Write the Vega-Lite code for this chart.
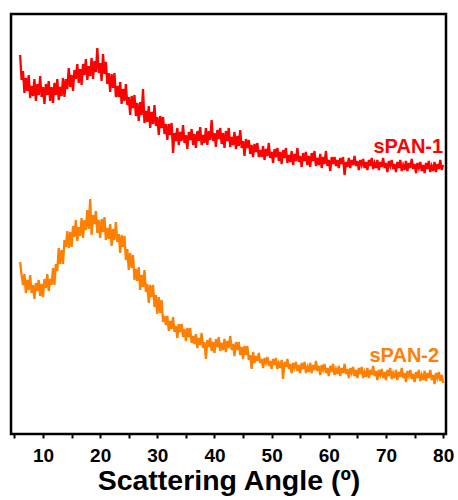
{
"$schema": "https://vega.github.io/schema/vega-lite/v6.json",
"width": 435, "height": 420,
"autosize": {"type": "none"},
"padding": {"left": 11, "top": 14, "right": 12, "bottom": 66},
"background": "white",
"config": {"view": {"stroke": "black", "strokeWidth": 2.5}, "font": "Liberation Sans"},
"encoding": {
"x": {"field": "x", "type": "quantitative",
"scale": {"domain": [4.4, 80.5], "nice": false, "zero": false},
"axis": {"values": [5,10,15,20,25,30,35,40,45,50,55,60,65,70,75,80],
"labelExpr": "datum.value % 10 == 0 ? datum.label : ''",
"domain": false, "grid": false,
"tickColor": "black", "tickWidth": 2, "tickSize": 4,
"labelFont": "Liberation Sans", "labelFontSize": 19, "labelFontWeight": "bold", "labelColor": "black", "labelPadding": 8,
"title": "Scattering Angle (º)", "titleFont": "Liberation Sans", "titleFontSize": 28.5, "titleFontWeight": "bold", "titleColor": "black", "titlePadding": 1}},
"y": {"field": "value", "type": "quantitative", "scale": {"domain": [0, 420], "nice": false, "zero": false}, "axis": null},
"color": {"field": "series", "type": "nominal", "scale": {"domain": ["r", "o"], "range": ["#ff0000", "#ff8000"]}, "legend": null}
},
"layer": [
{
"data": {"values": [
{"x":6,"r":379,"o":172},{"x":6.25,"r":354,"o":159},{"x":6.5,"r":363,"o":149},{"x":6.75,"r":341,"o":160},
{"x":7,"r":356,"o":141},{"x":7.25,"r":343,"o":154},{"x":7.5,"r":359,"o":144},{"x":7.75,"r":336,"o":159},
{"x":8,"r":348,"o":141},{"x":8.25,"r":338,"o":149},{"x":8.5,"r":355,"o":135},{"x":8.75,"r":333,"o":151},
{"x":9,"r":350,"o":143},{"x":9.25,"r":339,"o":154},{"x":9.5,"r":358,"o":138},{"x":9.75,"r":337,"o":150},
{"x":10,"r":347,"o":137},{"x":10.25,"r":330,"o":155},{"x":10.5,"r":350,"o":146},{"x":10.75,"r":339,"o":160},
{"x":11,"r":353,"o":143},{"x":11.25,"r":333,"o":155},{"x":11.5,"r":347,"o":149},{"x":11.75,"r":331,"o":166},
{"x":12,"r":351,"o":149},{"x":12.25,"r":339,"o":170},{"x":12.5,"r":355,"o":163},{"x":12.75,"r":334,"o":186},
{"x":13,"r":347,"o":170},{"x":13.25,"r":338,"o":184},{"x":13.5,"r":356,"o":170},{"x":13.75,"r":337,"o":194},
{"x":14,"r":355,"o":187},{"x":14.25,"r":345,"o":203},{"x":14.5,"r":366,"o":186},{"x":14.75,"r":347,"o":202},
{"x":15,"r":359,"o":187},{"x":15.25,"r":343,"o":208},{"x":15.5,"r":364,"o":197},{"x":15.75,"r":355,"o":214},
{"x":16,"r":370,"o":193},{"x":16.25,"r":351,"o":207},{"x":16.5,"r":365,"o":198},{"x":16.75,"r":349,"o":216},
{"x":17,"r":370,"o":196},{"x":17.25,"r":359,"o":214},{"x":17.5,"r":375,"o":204},{"x":17.75,"r":354,"o":224},
{"x":18,"r":368,"o":205},{"x":18.25,"r":358,"o":235},{"x":18.5,"r":376,"o":199},{"x":18.75,"r":355,"o":219},
{"x":19,"r":373,"o":210},{"x":19.25,"r":362,"o":223},{"x":19.5,"r":386,"o":201},{"x":19.75,"r":361,"o":214},
{"x":20,"r":371,"o":196},{"x":20.25,"r":353,"o":215},{"x":20.5,"r":380,"o":202},{"x":20.75,"r":360,"o":217},
{"x":21,"r":372,"o":194},{"x":21.25,"r":350,"o":206},{"x":21.5,"r":361,"o":195},{"x":21.75,"r":342,"o":210},
{"x":22,"r":360,"o":188},{"x":22.25,"r":346,"o":205},{"x":22.5,"r":361,"o":194},{"x":22.75,"r":337,"o":212},
{"x":23,"r":348,"o":192},{"x":23.25,"r":337,"o":200},{"x":23.5,"r":352,"o":181},{"x":23.75,"r":330,"o":199},
{"x":24,"r":345,"o":187},{"x":24.25,"r":333,"o":198},{"x":24.5,"r":350,"o":174},{"x":24.75,"r":329,"o":185},
{"x":25,"r":337,"o":164},{"x":25.25,"r":319,"o":181},{"x":25.5,"r":338,"o":166},{"x":25.75,"r":326,"o":179},
{"x":26,"r":339,"o":154},{"x":26.25,"r":318,"o":165},{"x":26.5,"r":331,"o":153},{"x":26.75,"r":313,"o":167},
{"x":27,"r":332,"o":144},{"x":27.25,"r":319,"o":159},{"x":27.5,"r":345,"o":147},{"x":27.75,"r":311,"o":164},
{"x":28,"r":323,"o":142},{"x":28.25,"r":312,"o":150},{"x":28.5,"r":328,"o":131},{"x":28.75,"r":306,"o":149},
{"x":29,"r":322,"o":137},{"x":29.25,"r":310,"o":149},{"x":29.5,"r":329,"o":127},{"x":29.75,"r":308,"o":139},
{"x":30,"r":317,"o":120},{"x":30.25,"r":299,"o":137},{"x":30.5,"r":318,"o":121},{"x":30.75,"r":306,"o":134},
{"x":31,"r":317,"o":112},{"x":31.25,"r":300,"o":118},{"x":31.5,"r":310,"o":109},{"x":31.75,"r":294,"o":118},
{"x":32,"r":310,"o":103},{"x":32.25,"r":299,"o":113},{"x":32.5,"r":311,"o":105},{"x":32.75,"r":281,"o":117},
{"x":33,"r":301,"o":102},{"x":33.25,"r":293,"o":108},{"x":33.5,"r":306,"o":96},{"x":33.75,"r":289,"o":110},
{"x":34,"r":302,"o":102},{"x":34.25,"r":293,"o":110},{"x":34.5,"r":309,"o":97},{"x":34.75,"r":291,"o":105},
{"x":35,"r":299,"o":93},{"x":35.25,"r":285,"o":106},{"x":35.5,"r":302,"o":97},{"x":35.75,"r":294,"o":106},
{"x":36,"r":305,"o":91},{"x":36.25,"r":289,"o":98},{"x":36.5,"r":300,"o":90},{"x":36.75,"r":286,"o":100},
{"x":37,"r":303,"o":86},{"x":37.25,"r":293,"o":96},{"x":37.5,"r":307,"o":89},{"x":37.75,"r":289,"o":101},
{"x":38,"r":299,"o":86},{"x":38.25,"r":291,"o":92},{"x":38.5,"r":306,"o":75},{"x":38.75,"r":289,"o":94},
{"x":39,"r":303,"o":87},{"x":39.25,"r":294,"o":96},{"x":39.5,"r":314,"o":83},{"x":39.75,"r":293,"o":92},
{"x":40,"r":301,"o":81},{"x":40.25,"r":287,"o":95},{"x":40.5,"r":304,"o":87},{"x":40.75,"r":295,"o":97},
{"x":41,"r":306,"o":83},{"x":41.25,"r":290,"o":91},{"x":41.5,"r":301,"o":84},{"x":41.75,"r":286,"o":95},
{"x":42,"r":303,"o":82},{"x":42.25,"r":293,"o":93},{"x":42.5,"r":306,"o":86},{"x":42.75,"r":287,"o":98},
{"x":43,"r":297,"o":84},{"x":43.25,"r":289,"o":90},{"x":43.5,"r":302,"o":78},{"x":43.75,"r":285,"o":92},
{"x":44,"r":298,"o":84},{"x":44.25,"r":288,"o":92},{"x":44.5,"r":304,"o":79},{"x":44.75,"r":286,"o":87},
{"x":45,"r":293,"o":75},{"x":45.25,"r":278,"o":88},{"x":45.5,"r":295,"o":79},{"x":45.75,"r":286,"o":88},
{"x":46,"r":294,"o":74},{"x":46.25,"r":280,"o":79},{"x":46.5,"r":289,"o":65},{"x":46.75,"r":277,"o":82},
{"x":47,"r":290,"o":71},{"x":47.25,"r":282,"o":78},{"x":47.5,"r":291,"o":73},{"x":47.75,"r":277,"o":81},
{"x":48,"r":284,"o":71},{"x":48.25,"r":277,"o":75},{"x":48.5,"r":288,"o":66},{"x":48.75,"r":274,"o":76},
{"x":49,"r":285,"o":71},{"x":49.25,"r":278,"o":77},{"x":49.5,"r":291,"o":68},{"x":49.75,"r":276,"o":73},
{"x":50,"r":282,"o":65},{"x":50.25,"r":271,"o":75},{"x":50.5,"r":285,"o":69},{"x":50.75,"r":277,"o":76},
{"x":51,"r":286,"o":65},{"x":51.25,"r":273,"o":71},{"x":51.5,"r":282,"o":66},{"x":51.75,"r":270,"o":74},
{"x":52,"r":284,"o":55},{"x":52.25,"r":276,"o":72},{"x":52.5,"r":286,"o":67},{"x":52.75,"r":271,"o":75},
{"x":53,"r":279,"o":65},{"x":53.25,"r":272,"o":70},{"x":53.5,"r":283,"o":61},{"x":53.75,"r":269,"o":71},
{"x":54,"r":280,"o":66},{"x":54.25,"r":273,"o":72},{"x":54.5,"r":286,"o":63},{"x":54.75,"r":272,"o":69},
{"x":55,"r":278,"o":61},{"x":55.25,"r":267,"o":71},{"x":55.5,"r":281,"o":65},{"x":55.75,"r":273,"o":72},
{"x":56,"r":282,"o":61},{"x":56.25,"r":269,"o":67},{"x":56.5,"r":278,"o":62},{"x":56.75,"r":267,"o":71},
{"x":57,"r":281,"o":61},{"x":57.25,"r":273,"o":69},{"x":57.5,"r":283,"o":64},{"x":57.75,"r":268,"o":73},
{"x":58,"r":276,"o":63},{"x":58.25,"r":269,"o":68},{"x":58.5,"r":280,"o":59},{"x":58.75,"r":266,"o":69},
{"x":59,"r":277,"o":64},{"x":59.25,"r":270,"o":70},{"x":59.5,"r":283,"o":61},{"x":59.75,"r":268,"o":66},
{"x":60,"r":274,"o":58},{"x":60.25,"r":263,"o":68},{"x":60.5,"r":277,"o":62},{"x":60.75,"r":270,"o":70},
{"x":61,"r":277,"o":59},{"x":61.25,"r":268,"o":65},{"x":61.5,"r":274,"o":60},{"x":61.75,"r":266,"o":68},
{"x":62,"r":276,"o":58},{"x":62.25,"r":270,"o":66},{"x":62.5,"r":277,"o":61},{"x":62.75,"r":259,"o":70},
{"x":63,"r":272,"o":60},{"x":63.25,"r":267,"o":65},{"x":63.5,"r":276,"o":56},{"x":63.75,"r":266,"o":66},
{"x":64,"r":274,"o":61},{"x":64.25,"r":269,"o":67},{"x":64.5,"r":278,"o":58},{"x":64.75,"r":268,"o":64},
{"x":65,"r":273,"o":56},{"x":65.25,"r":264,"o":66},{"x":65.5,"r":274,"o":60},{"x":65.75,"r":269,"o":67},
{"x":66,"r":275,"o":56},{"x":66.25,"r":266,"o":62},{"x":66.5,"r":272,"o":57},{"x":66.75,"r":264,"o":66},
{"x":67,"r":274,"o":56},{"x":67.25,"r":268,"o":64},{"x":67.5,"r":276,"o":59},{"x":67.75,"r":265,"o":68},
{"x":68,"r":271,"o":58},{"x":68.25,"r":266,"o":63},{"x":68.5,"r":274,"o":54},{"x":68.75,"r":264,"o":64},
{"x":69,"r":272,"o":59},{"x":69.25,"r":267,"o":65},{"x":69.5,"r":276,"o":56},{"x":69.75,"r":266,"o":62},
{"x":70,"r":271,"o":54},{"x":70.25,"r":262,"o":64},{"x":70.5,"r":273,"o":58},{"x":70.75,"r":268,"o":66},
{"x":71,"r":274,"o":55},{"x":71.25,"r":265,"o":61},{"x":71.5,"r":270,"o":56},{"x":71.75,"r":262,"o":64},
{"x":72,"r":272,"o":54},{"x":72.25,"r":266,"o":62},{"x":72.5,"r":274,"o":57},{"x":72.75,"r":263,"o":66},
{"x":73,"r":269,"o":56},{"x":73.25,"r":264,"o":61},{"x":73.5,"r":273,"o":52},{"x":73.75,"r":263,"o":63},
{"x":74,"r":271,"o":58},{"x":74.25,"r":266,"o":64},{"x":74.5,"r":275,"o":55},{"x":74.75,"r":265,"o":60},
{"x":75,"r":270,"o":52},{"x":75.25,"r":261,"o":62},{"x":75.5,"r":271,"o":56},{"x":75.75,"r":266,"o":64},
{"x":76,"r":272,"o":53},{"x":76.25,"r":263,"o":59},{"x":76.5,"r":269,"o":54},{"x":76.75,"r":261,"o":63},
{"x":77,"r":271,"o":53},{"x":77.25,"r":265,"o":61},{"x":77.5,"r":273,"o":56},{"x":77.75,"r":262,"o":64},
{"x":78,"r":268,"o":54},{"x":78.25,"r":263,"o":59},{"x":78.5,"r":272,"o":50},{"x":78.75,"r":262,"o":61},
{"x":79,"r":270,"o":56},{"x":79.25,"r":265,"o":62},{"x":79.5,"r":274,"o":53},{"x":79.75,"r":264,"o":59},
{"x":80,"r":269,"o":51}
]},
"transform": [{"fold": ["r", "o"], "as": ["series", "value"]}],
"mark": {"type": "line", "strokeWidth": 2.3, "clip": true}
},
{
"data": {"values": [
{"label": "sPAN-1", "x": 80, "value": 287, "series": "r"},
{"label": "sPAN-2", "x": 79.3, "value": 78, "series": "o"}
]},
"mark": {"type": "text", "align": "right", "baseline": "middle", "fontSize": 20, "fontWeight": "bold", "font": "Liberation Sans"},
"encoding": {"text": {"field": "label"}}
}
]
}
